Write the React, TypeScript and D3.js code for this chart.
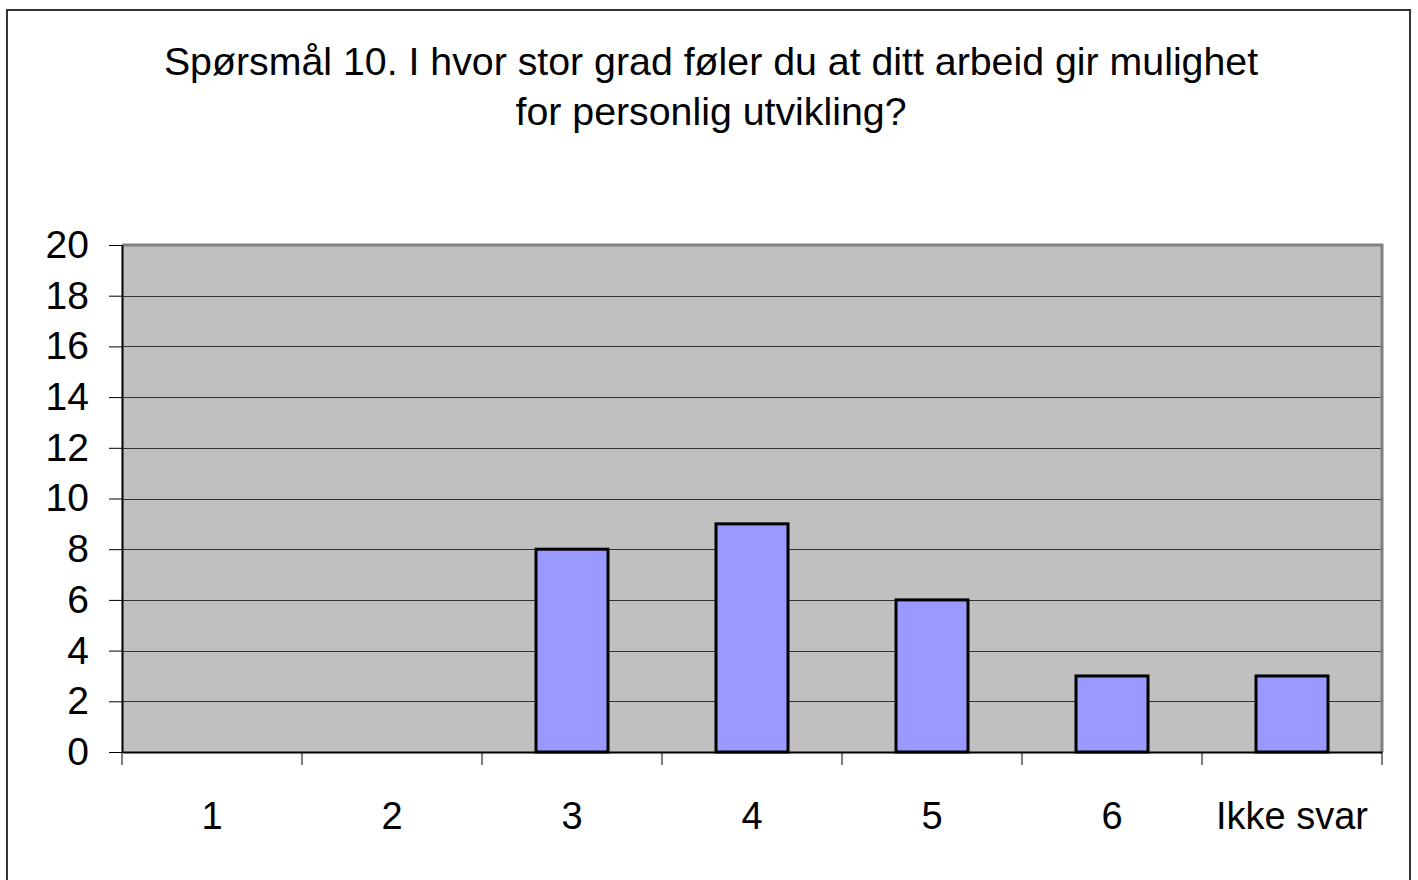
import React, { useEffect, useRef } from 'react';
import * as d3 from 'd3';

const categories = ['1', '2', '3', '4', '5', '6', 'Ikke svar'];
const counts = [0, 0, 8, 9, 6, 3, 3];
const yTicks = [0, 2, 4, 6, 8, 10, 12, 14, 16, 18, 20];
const titleLines = [
  'Spørsmål 10. I hvor stor grad føler du at ditt arbeid gir mulighet',
  'for personlig utvikling?',
];

export default function App() {
  const ref = useRef<SVGSVGElement>(null);

  useEffect(() => {
    const width = 1418;
    const height = 880;
    const m = { left: 122, right: 1382, top: 245, bottom: 752 };
    const font = 'Liberation Sans, Arial, sans-serif';

    const svg = d3.select(ref.current);
    svg.selectAll('*').remove();
    svg.attr('width', width).attr('height', height);

    // outer frame
    svg.append('rect')
      .attr('x', 7).attr('y', 10)
      .attr('width', 1403).attr('height', 900)
      .attr('fill', 'white')
      .attr('stroke', '#333').attr('stroke-width', 2);

    // title
    svg.append('g')
      .selectAll('text')
      .data(titleLines)
      .join('text')
      .attr('x', 711)
      .attr('y', (d, i) => 75 + i * 50)
      .attr('text-anchor', 'middle')
      .attr('font-family', font)
      .attr('font-size', 39.3)
      .text(d => d);

    const x = d3.scaleBand()
      .domain(categories)
      .range([m.left, m.right])
      .paddingInner(0.6)
      .paddingOuter(0.3);

    const band = d3.scaleBand().domain(categories).range([m.left, m.right]);

    const y = d3.scaleLinear()
      .domain([0, 20])
      .range([m.bottom, m.top]);

    // plot background
    svg.append('rect')
      .attr('x', m.left).attr('y', m.top)
      .attr('width', m.right - m.left).attr('height', m.bottom - m.top)
      .attr('fill', '#c0c0c0');

    // grid lines
    svg.append('g')
      .selectAll('line')
      .data(yTicks.filter(t => t > 0 && t < 20))
      .join('line')
      .attr('x1', m.left).attr('x2', m.right)
      .attr('y1', d => Math.round(y(d)) + 0.5).attr('y2', d => Math.round(y(d)) + 0.5)
      .attr('stroke', '#333').attr('stroke-width', 1);

    // plot border top/right
    svg.append('path')
      .attr('d', `M${m.left},${m.top}H${m.right}V${m.bottom}`)
      .attr('fill', 'none')
      .attr('stroke', '#808080').attr('stroke-width', 3);

    // bars
    svg.append('g')
      .selectAll('rect')
      .data(counts.map((v, i) => ({ c: categories[i], v })).filter(d => d.v > 0))
      .join('rect')
      .attr('x', d => x(d.c)!)
      .attr('width', x.bandwidth())
      .attr('y', d => y(d.v))
      .attr('height', d => y(0) - y(d.v))
      .attr('fill', '#9999ff')
      .attr('stroke', 'black').attr('stroke-width', 3);

    // y axis
    const yAxis = svg.append('g')
      .attr('transform', `translate(${m.left},0)`)
      .call(d3.axisLeft(y).tickValues(yTicks).tickSize(13).tickPadding(20).tickSizeOuter(0));
    yAxis.select('.domain').attr('stroke', 'black').attr('stroke-width', 2);
    yAxis.selectAll('.tick line').attr('stroke', 'black');
    yAxis.selectAll('.tick text')
      .attr('font-family', font)
      .attr('font-size', 39)
      .attr('fill', 'black');

    // x axis
    const xAxis = svg.append('g')
      .attr('transform', `translate(0,${m.bottom})`)
      .call(d3.axisBottom(band).tickSize(0).tickPadding(50).tickSizeOuter(0));
    xAxis.select('.domain').attr('stroke', 'black').attr('stroke-width', 2);
    xAxis.selectAll('.tick text')
      .attr('font-family', font)
      .attr('font-size', 38)
      .attr('fill', 'black');

    // category separators below axis
    const edges = categories.map(c => band(c)!).concat([m.right]);
    svg.append('g')
      .selectAll('line')
      .data(edges)
      .join('line')
      .attr('x1', d => d).attr('x2', d => d)
      .attr('y1', m.bottom).attr('y2', m.bottom + 13)
      .attr('stroke', 'black').attr('stroke-width', 1);
  }, []);

  return (
    <svg
      ref={ref}
      style={{ position: 'absolute', left: 0, top: 0, display: 'block', background: 'white' }}
    />
  );
}
